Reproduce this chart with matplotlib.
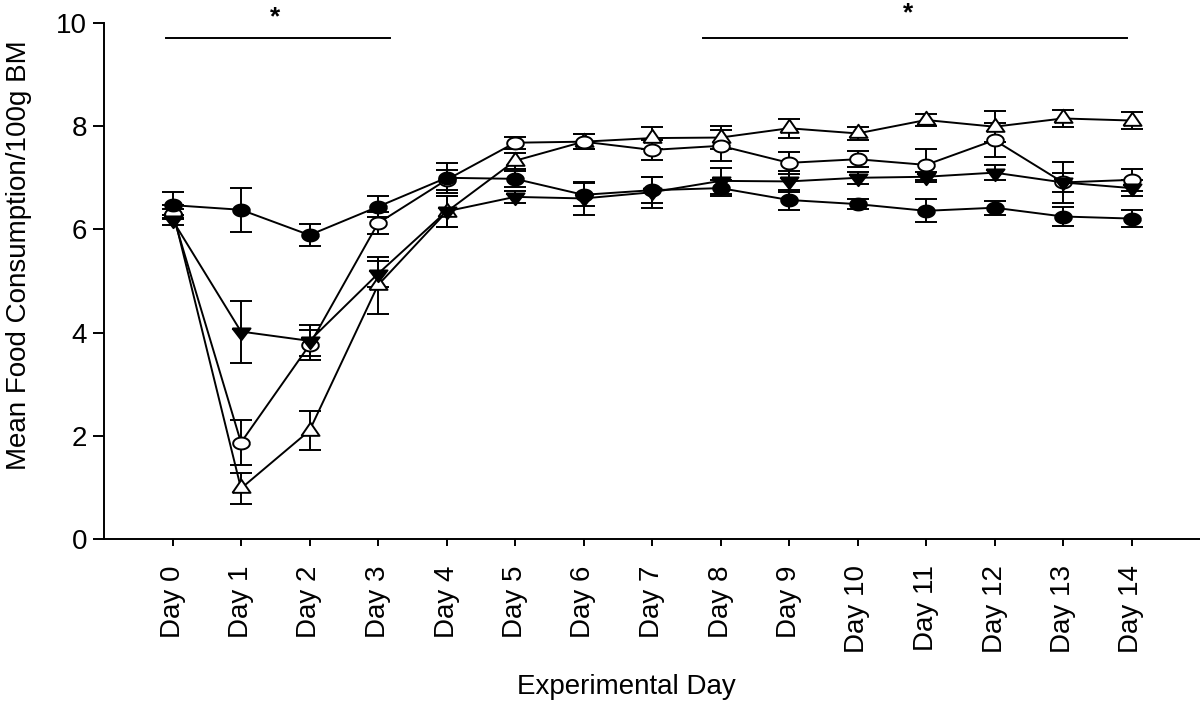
import numpy as np
from matplotlib import pyplot as plt

# Data
days = list(range(15))
day_labels = ["Day %d" % d for d in days]

filled_circle = [6.47, 6.38, 5.89, 6.44, 7.00, 6.98, 6.67, 6.76, 6.80, 6.57, 6.49, 6.36, 6.42, 6.25, 6.21]
filled_circle_err = [0.25, 0.43, 0.21, 0.20, 0.29, 0.15, 0.22, 0.25, 0.15, 0.20, 0.09, 0.22, 0.14, 0.18, 0.16]

filled_tri = [6.18, 4.02, 3.84, 5.14, 6.35, 6.63, 6.60, 6.72, 6.94, 6.93, 7.00, 7.02, 7.10, 6.91, 6.80]
filled_tri_err = [0.10, 0.60, 0.30, 0.25, 0.30, 0.12, 0.32, 0.30, 0.25, 0.20, 0.12, 0.10, 0.15, 0.18, 0.15]

open_circle = [6.30, 1.87, 3.76, 6.12, 6.96, 7.68, 7.70, 7.54, 7.62, 7.29, 7.36, 7.25, 7.73, 6.91, 6.96]
open_circle_err = [0.10, 0.43, 0.30, 0.21, 0.20, 0.12, 0.14, 0.20, 0.30, 0.21, 0.15, 0.30, 0.33, 0.39, 0.22]

open_tri = [6.38, 0.98, 2.10, 4.92, 6.34, 7.33, 7.70, 7.77, 7.78, 7.96, 7.86, 8.12, 7.99, 8.15, 8.11]
open_tri_err = [0.10, 0.30, 0.38, 0.55, 0.30, 0.15, 0.14, 0.22, 0.22, 0.18, 0.12, 0.12, 0.30, 0.17, 0.16]

# significance bars: (x start, x end, y, star x, star y)
sig_bars = [(-0.09, 3.17, 9.71, 1.5, 9.88), (7.74, 13.94, 9.71, 10.74, 9.96)]

plt.rcParams['font.family'] = ['Liberation Sans', 'DejaVu Sans']
plt.rcParams['font.size'] = 20

# slightly squashed marker shapes, like the original
t = np.linspace(0, 2 * np.pi, 41)
ellipse = list(zip(1.4 * np.cos(t), np.sin(t)))
tri_up = [(-1, -0.48), (1, -0.48), (0, 0.97), (-1, -0.48)]
tri_down = [(-1, 0.45), (1, 0.45), (0, -0.85), (-1, 0.45)]

fig = plt.figure(figsize=(12, 7.01), dpi=100)
ax = fig.add_axes([104 / 1200, 1 - 539 / 701, 1 - 104 / 1200, (539 - 23) / 701])

common = dict(color='black', lw=1.4, elinewidth=1.4, capsize=8, capthick=1.4,
              markeredgecolor='black', markeredgewidth=1.4)
ax.errorbar(days, open_tri, yerr=open_tri_err, marker=tri_up, ms=13, mfc='white', **common)
ax.errorbar(days, open_circle, yerr=open_circle_err, marker=ellipse, ms=12, mfc='white', **common)
ax.errorbar(days, filled_circle, yerr=filled_circle_err, marker=ellipse, ms=12, mfc='black', **common)
ax.errorbar(days, filled_tri, yerr=filled_tri_err, marker=tri_down, ms=13, mfc='black', **common)

# significance lines and stars
for x0, x1, y, xs, ys in sig_bars:
    ax.plot([x0, x1], [y, y], color='black', lw=1.4, clip_on=False)
    ax.text(xs, ys, "*", ha='center', va='bottom', fontsize=19, fontweight='bold', clip_on=False)

ax.set_xlim(-1, 15)
ax.set_ylim(0, 10)
ax.set_yticks([0, 2, 4, 6, 8, 10])
ax.set_xticks(days)
ax.set_xticklabels(day_labels, rotation=90)
ax.tick_params(axis='y', length=8, width=1.4, pad=4)
ax.tick_params(axis='x', length=5, width=1.4, pad=14)
ax.spines['top'].set_visible(False)
ax.spines['right'].set_visible(False)
ax.spines['left'].set_linewidth(1.4)
ax.spines['bottom'].set_linewidth(1.4)

ax.set_ylabel("Mean Food Consumption/100g BM")
ax.yaxis.set_label_coords(-0.066, 0.55)
ax.set_xlabel("Experimental Day")
ax.xaxis.set_label_coords(0.477, -0.261)

plt.savefig("out.png", dpi=100)
